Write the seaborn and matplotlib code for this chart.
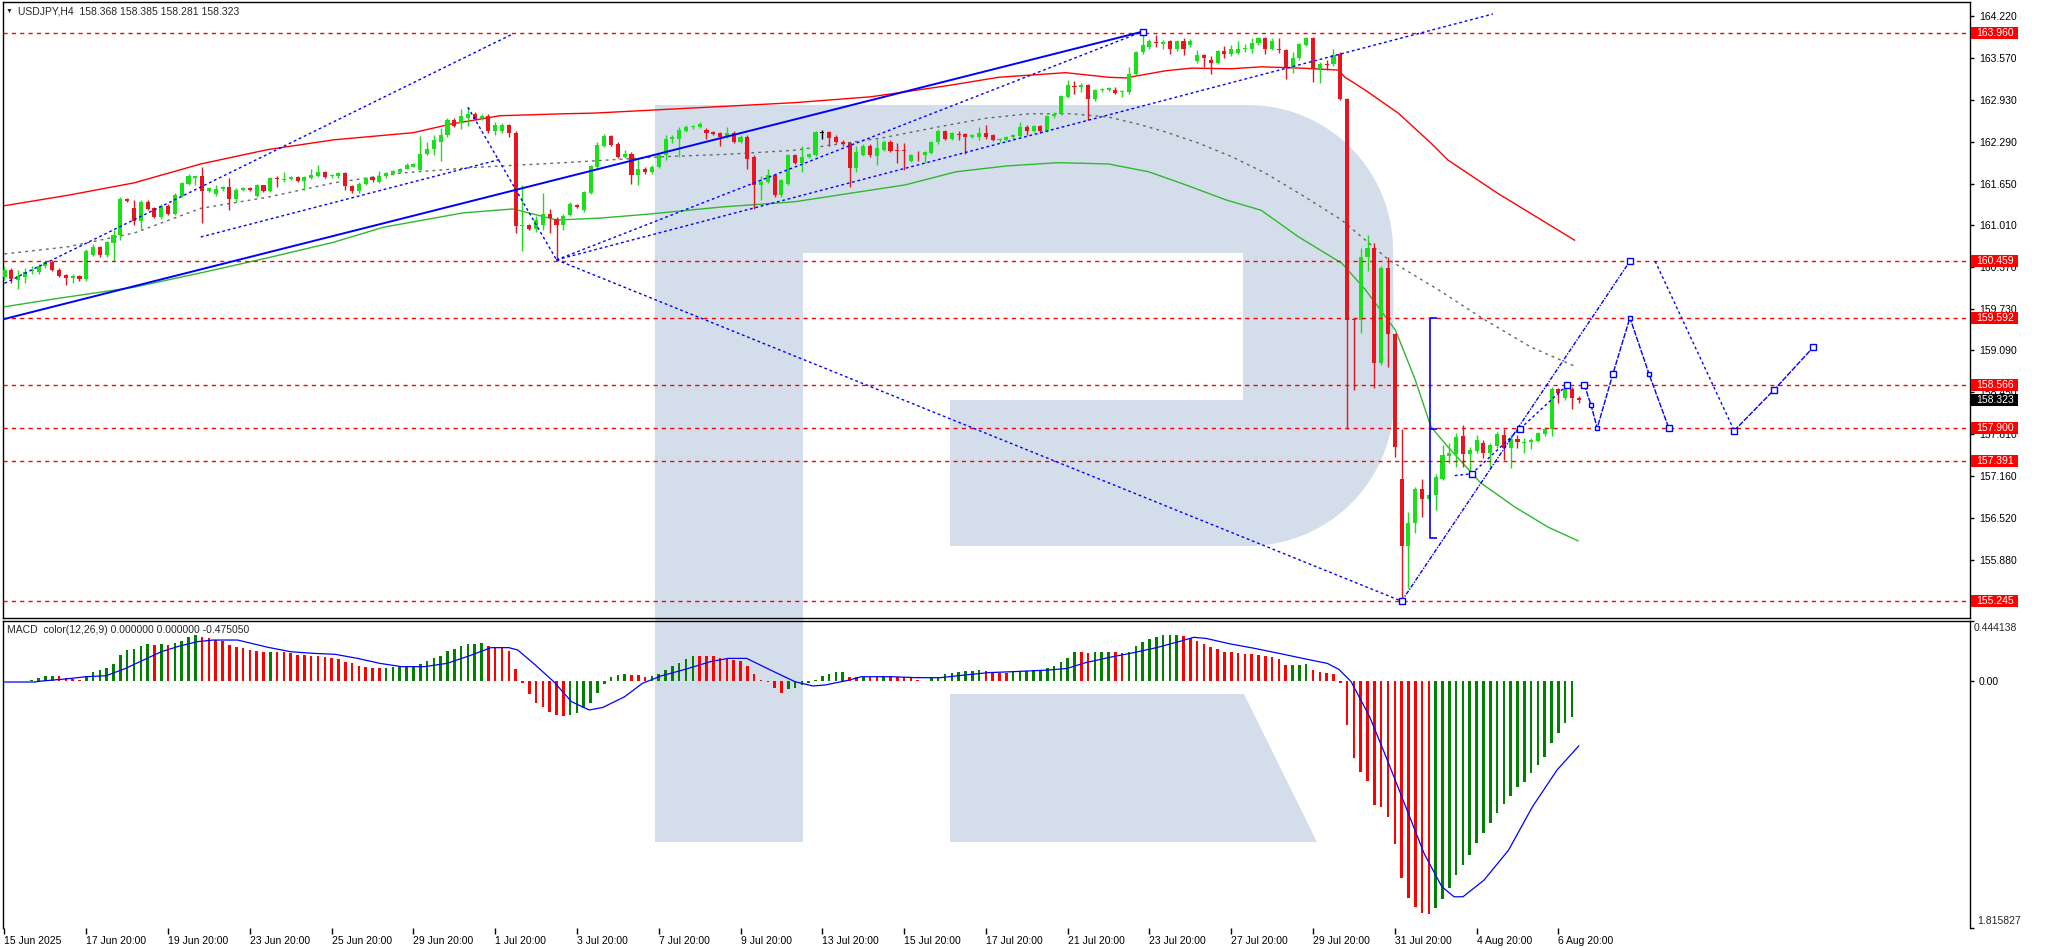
import numpy as np
import matplotlib
matplotlib.use('Agg')
import matplotlib.pyplot as plt
import matplotlib.transforms as mtransforms
from matplotlib.patches import Polygon, Rectangle
import seaborn as sns

# USDJPY H4 candles, oldest first
opens = [160.22, 160.33, 160.17, 160.22, 160.31, 160.30, 160.38, 160.45, 160.33, 160.25,
         160.20, 160.23, 160.18, 160.56, 160.67, 160.55, 160.74, 160.86, 161.41, 161.27,
         161.08, 161.36, 161.27, 161.13, 161.31, 161.19, 161.46, 161.65, 161.74, 161.76,
         161.54, 161.49, 161.56, 161.59, 161.41, 161.55, 161.58, 161.46, 161.62, 161.54,
         161.73, 161.70, 161.72, 161.75, 161.69, 161.73, 161.77, 161.82, 161.76, 161.76,
         161.81, 161.61, 161.54, 161.65, 161.75, 161.68, 161.76, 161.80, 161.82, 161.88,
         161.91, 161.85, 162.11, 162.18, 162.29, 162.39, 162.63, 162.58, 162.65, 162.72,
         162.65, 162.69, 162.45, 162.46, 162.55, 162.42, 161.00, 161.01, 160.95, 161.01,
         161.18, 161.10, 161.01, 161.17, 161.32, 161.24, 161.51, 161.91, 162.23, 162.38,
         162.26, 162.06, 162.11, 161.78, 161.88, 161.82, 161.91, 162.09, 162.34, 162.34,
         162.46, 162.51, 162.52, 162.47, 162.44, 162.42, 162.37, 162.43, 162.29, 162.37,
         162.05, 161.62, 161.68, 161.78, 161.47, 161.64, 162.09, 161.96, 162.06, 162.09,
         162.42, 162.44, 162.37, 162.29, 162.27, 161.89, 162.09, 162.23, 162.07, 162.17,
         162.29, 162.16, 162.16, 162.00, 162.09, 162.08, 162.12, 162.28, 162.45, 162.34,
         162.41, 162.41, 162.37, 162.37, 162.42, 162.39, 162.31, 162.32, 162.36, 162.38,
         162.52, 162.46, 162.53, 162.46, 162.68, 162.72, 162.98, 163.15, 163.13, 163.16,
         162.94, 163.08, 163.09, 163.09, 163.05, 163.05, 163.33, 163.66, 163.75, 163.82,
         163.79, 163.83, 163.71, 163.83, 163.77, 163.53, 163.62, 163.55, 163.50, 163.68,
         163.63, 163.65, 163.71, 163.72, 163.80, 163.88, 163.72, 163.72, 163.70, 163.44,
         163.57, 163.78, 163.88, 163.40, 163.48, 163.48, 163.64, 162.95, 159.56, 159.56,
         160.52, 160.66, 158.90, 160.36, 159.34, 157.12, 156.09, 156.44, 156.97, 156.81,
         156.87, 157.12, 157.47, 157.50, 157.78, 157.50, 157.55, 157.67, 157.52, 157.62,
         157.79, 157.60, 157.73, 157.67, 157.69, 157.70, 157.81, 157.89, 158.50, 158.36,
         158.50, 158.368]
highs = [160.38, 160.36, 160.33, 160.35, 160.38, 160.42, 160.46, 160.48, 160.35, 160.27,
         160.27, 160.25, 160.64, 160.73, 160.69, 160.77, 160.93, 161.44, 161.43, 161.40,
         161.40, 161.39, 161.29, 161.34, 161.33, 161.50, 161.68, 161.79, 161.77, 161.91,
         161.60, 161.63, 161.61, 161.73, 161.58, 161.60, 161.60, 161.64, 161.63, 161.75,
         161.77, 161.82, 161.77, 161.77, 161.77, 161.88, 161.93, 161.84, 161.80, 161.83,
         161.83, 161.63, 161.67, 161.75, 161.76, 161.84, 161.83, 161.86, 161.89, 161.96,
         161.97, 162.38, 162.29, 162.39, 162.50, 162.65, 162.65, 162.80, 162.82, 162.74,
         162.72, 162.71, 162.60, 162.58, 162.57, 162.45, 161.63, 161.03, 161.15, 161.50,
         161.26, 161.14, 161.19, 161.36, 161.34, 161.54, 161.94, 162.29, 162.41, 162.40,
         162.28, 162.17, 162.14, 162.06, 161.90, 161.93, 162.11, 162.40, 162.40, 162.52,
         162.54, 162.54, 162.60, 162.50, 162.46, 162.44, 162.51, 162.45, 162.39, 162.39,
         162.09, 161.76, 161.88, 161.80, 161.72, 162.11, 162.11, 162.22, 162.12, 162.46,
         162.47, 162.46, 162.39, 162.31, 162.29, 162.22, 162.25, 162.25, 162.34, 162.31,
         162.31, 162.27, 162.27, 162.11, 162.15, 162.15, 162.30, 162.48, 162.47, 162.44,
         162.45, 162.43, 162.41, 162.52, 162.55, 162.41, 162.35, 162.38, 162.41, 162.60,
         162.54, 162.55, 162.55, 162.70, 162.74, 163.01, 163.24, 163.22, 163.19, 163.18,
         163.10, 163.12, 163.13, 163.13, 163.09, 163.44, 163.68, 163.98, 163.86, 163.93,
         163.85, 163.85, 163.85, 163.88, 163.86, 163.70, 163.64, 163.61, 163.70, 163.76,
         163.77, 163.83, 163.79, 163.88, 163.90, 163.90, 163.88, 163.88, 163.72, 163.67,
         163.81, 163.90, 163.90, 163.51, 163.54, 163.72, 163.66, 162.96, 159.57, 160.66,
         160.86, 160.74, 160.39, 160.52, 159.36, 157.89, 156.61, 156.99, 157.12, 156.90,
         157.19, 157.64, 157.67, 157.82, 157.95, 157.61, 157.79, 157.72, 157.67, 157.84,
         157.89, 157.79, 157.79, 157.75, 157.75, 157.84, 157.92, 158.53, 158.51, 158.56,
         158.53, 158.385]
lows = [160.17, 160.13, 160.03, 160.12, 160.27, 160.27, 160.36, 160.31, 160.21, 160.09,
        160.13, 160.16, 160.16, 160.54, 160.53, 160.53, 160.46, 160.78, 161.36, 161.01,
        160.96, 161.24, 161.12, 161.10, 161.17, 161.17, 161.44, 161.63, 161.63, 161.05,
        161.52, 161.46, 161.54, 161.24, 161.36, 161.53, 161.53, 161.44, 161.52, 161.52,
        161.60, 161.67, 161.70, 161.67, 161.55, 161.72, 161.75, 161.73, 161.74, 161.74,
        161.55, 161.50, 161.50, 161.63, 161.68, 161.66, 161.74, 161.78, 161.81, 161.87,
        161.90, 161.84, 162.09, 162.09, 161.99, 162.37, 162.51, 162.48, 162.53, 162.62,
        162.63, 162.43, 162.40, 162.42, 162.37, 160.89, 160.61, 160.94, 160.91, 160.94,
        160.89, 160.48, 160.94, 161.15, 161.27, 161.22, 161.49, 161.89, 162.21, 162.22,
        162.04, 162.04, 161.65, 161.63, 161.80, 161.80, 161.89, 162.01, 162.27, 162.05,
        162.44, 162.49, 162.50, 162.34, 162.39, 162.23, 162.35, 162.27, 162.27, 161.88,
        161.26, 161.40, 161.66, 161.45, 161.45, 161.62, 161.95, 161.82, 162.04, 162.07,
        162.34, 162.22, 162.27, 162.22, 161.59, 161.82, 162.07, 162.06, 161.93, 162.15,
        162.13, 161.96, 161.86, 161.98, 162.00, 161.96, 162.10, 162.26, 162.32, 162.32,
        162.32, 162.10, 162.35, 162.32, 162.34, 162.30, 162.29, 162.30, 162.34, 162.36,
        162.39, 162.44, 162.42, 162.44, 162.66, 162.70, 162.96, 163.02, 163.06, 162.62,
        162.92, 163.06, 163.07, 163.02, 162.98, 163.03, 163.31, 163.64, 163.71, 163.74,
        163.71, 163.63, 163.69, 163.62, 163.75, 163.50, 163.44, 163.33, 163.48, 163.57,
        163.61, 163.63, 163.66, 163.65, 163.78, 163.64, 163.70, 163.65, 163.26, 163.34,
        163.55, 163.76, 163.21, 163.19, 163.39, 163.45, 162.93, 157.89, 158.48, 159.36,
        160.31, 158.51, 158.87, 158.84, 157.46, 155.245, 155.45, 156.29, 156.54, 156.78,
        156.64, 157.10, 157.36, 157.30, 157.30, 157.21, 157.52, 157.44, 157.29, 157.60,
        157.41, 157.29, 157.60, 157.52, 157.58, 157.69, 157.78, 157.78, 158.28, 158.33,
        158.19, 158.281]
closes = [160.33, 160.18, 160.23, 160.30, 160.33, 160.39, 160.44, 160.33, 160.23, 160.20,
          160.23, 160.18, 160.62, 160.67, 160.55, 160.75, 160.86, 161.41, 161.38, 161.08,
          161.37, 161.26, 161.14, 161.31, 161.19, 161.47, 161.66, 161.76, 161.76, 161.54,
          161.58, 161.56, 161.59, 161.41, 161.55, 161.58, 161.55, 161.62, 161.54, 161.73,
          161.72, 161.72, 161.75, 161.69, 161.75, 161.78, 161.83, 161.75, 161.78, 161.81,
          161.61, 161.54, 161.65, 161.73, 161.71, 161.76, 161.81, 161.84, 161.87, 161.94,
          161.95, 162.11, 162.18, 162.31, 162.39, 162.63, 162.53, 162.68, 162.72, 162.64,
          162.69, 162.45, 162.55, 162.55, 162.42, 161.00, 161.01, 160.96, 161.09, 161.19,
          161.12, 161.01, 161.15, 161.34, 161.29, 161.52, 161.92, 162.24, 162.38, 162.24,
          162.06, 162.11, 161.78, 161.88, 161.82, 161.91, 162.09, 162.34, 162.36, 162.47,
          162.52, 162.52, 162.57, 162.42, 162.41, 162.37, 162.43, 162.29, 162.37, 162.03,
          161.63, 161.68, 161.78, 161.47, 161.70, 162.09, 161.97, 162.06, 162.10, 162.44,
          162.42, 162.35, 162.29, 162.26, 161.89, 162.14, 162.23, 162.08, 162.19, 162.29,
          162.15, 162.15, 162.15, 162.09, 162.08, 162.13, 162.28, 162.46, 162.34, 162.42,
          162.40, 162.37, 162.39, 162.42, 162.36, 162.32, 162.33, 162.36, 162.39, 162.51,
          162.46, 162.53, 162.46, 162.68, 162.72, 162.99, 163.16, 163.13, 163.16, 162.94,
          163.08, 163.10, 163.11, 163.04, 163.07, 163.33, 163.66, 163.77, 163.84, 163.80,
          163.82, 163.71, 163.83, 163.71, 163.84, 163.62, 163.57, 163.50, 163.68, 163.63,
          163.72, 163.72, 163.73, 163.80, 163.88, 163.72, 163.83, 163.70, 163.43, 163.57,
          163.79, 163.88, 163.40, 163.48, 163.47, 163.62, 162.94, 159.56, 159.55, 160.52,
          160.66, 158.90, 160.36, 159.34, 157.61, 156.09, 156.44, 156.97, 156.81, 156.87,
          157.15, 157.49, 157.52, 157.76, 157.50, 157.56, 157.72, 157.52, 157.64, 157.81,
          157.60, 157.73, 157.69, 157.69, 157.72, 157.82, 157.89, 158.50, 158.44, 158.50,
          158.36, 158.323]

# MACD color(12,26,9) histogram, one per closed candle
macd = [0.003, 0.002, 0.005, 0.006, 0.010, 0.022, 0.039, 0.040, 0.038, 0.022,
        0.015, 0.010, 0.039, 0.071, 0.083, 0.096, 0.127, 0.194, 0.231, 0.238,
        0.260, 0.272, 0.267, 0.275, 0.267, 0.285, 0.297, 0.329, 0.341, 0.324,
        0.316, 0.304, 0.299, 0.267, 0.255, 0.243, 0.231, 0.223, 0.218, 0.219,
        0.217, 0.213, 0.206, 0.194, 0.193, 0.189, 0.186, 0.181, 0.174, 0.164,
        0.145, 0.132, 0.113, 0.108, 0.100, 0.099, 0.100, 0.108, 0.109, 0.110,
        0.113, 0.127, 0.149, 0.169, 0.186, 0.223, 0.235, 0.260, 0.272, 0.277,
        0.285, 0.260, 0.250, 0.243, 0.226, 0.088, -0.010, -0.093, -0.157, -0.191,
        -0.224, -0.248, -0.255, -0.248, -0.236, -0.199, -0.157, -0.088, -0.020, 0.029,
        0.046, 0.054, 0.046, 0.044, 0.034, 0.036, 0.052, 0.080, 0.110, 0.137,
        0.165, 0.190, 0.186, 0.185, 0.184, 0.169, 0.162, 0.160, 0.152, 0.113,
        0.054, 0.010, -0.007, -0.052, -0.084, -0.059, -0.052, -0.027, -0.010, 0.010,
        0.039, 0.054, 0.066, 0.067, 0.034, 0.029, 0.034, 0.033, 0.029, 0.039,
        0.038, 0.034, 0.033, 0.029, 0.010, 0.005, 0.022, 0.034, 0.054, 0.059,
        0.071, 0.076, 0.078, 0.083, 0.076, 0.071, 0.064, 0.059, 0.066, 0.071,
        0.078, 0.083, 0.084, 0.095, 0.113, 0.145, 0.174, 0.215, 0.213, 0.212,
        0.214, 0.216, 0.218, 0.213, 0.212, 0.218, 0.260, 0.292, 0.309, 0.329,
        0.341, 0.342, 0.343, 0.334, 0.316, 0.297, 0.275, 0.250, 0.235, 0.218,
        0.213, 0.206, 0.201, 0.200, 0.194, 0.186, 0.176, 0.162, 0.118, 0.120,
        0.122, 0.125, 0.083, 0.071, 0.059, 0.051, -0.010, -0.322, -0.562, -0.665,
        -0.734, -0.911, -0.923, -1.002, -1.198, -1.446, -1.593, -1.659, -1.709, -1.713,
        -1.672, -1.603, -1.525, -1.426, -1.353, -1.279, -1.188, -1.120, -1.046, -0.967,
        -0.902, -0.845, -0.776, -0.739, -0.673, -0.616, -0.560, -0.457, -0.378, -0.310,
        -0.260]

# MACD signal line (bar index, value)
signal_x = [0, 4.4, 5.4, 9.3, 11.9, 14.9, 17.8, 20.4, 23, 25.7, 28.3, 30.6, 34.2, 38.7, 42, 45.3,
            48.5, 51.8, 55.1, 58.3, 61.6, 64.9, 68.1, 71.4, 74, 75.3, 77.9, 80.6, 83.2, 85.8,
            87.8, 91, 93.6, 96.3, 100, 103.6, 106.2, 108.9, 112.4, 116, 118.6, 120.4, 124,
            125.7, 130.2, 133.7, 137.3, 140.8, 144.4, 147.9, 153.2, 155.9, 158.6, 162.1,
            165.7, 169.2, 172.8, 174.5, 176.3, 179.9, 183.4, 187, 190.5, 194.1, 195.8,
            197.6, 200.3, 202.9, 205.6, 208.3, 210.9, 212.7, 214, 217.1, 220.7, 224.2,
            227.8, 231]
signal_y = [-0.005, -0.005, 0.002, 0.019, 0.034, 0.041, 0.096, 0.157, 0.218, 0.260, 0.292, 0.304,
            0.304, 0.250, 0.218, 0.206, 0.199, 0.169, 0.132, 0.108, 0.108, 0.132, 0.186, 0.248,
            0.248, 0.231, 0.120, -0.003, -0.150, -0.211, -0.192, -0.113, -0.015, 0.039, 0.090,
            0.145, 0.169, 0.169, 0.083, -0.003, -0.034, -0.027, 0.010, 0.034, 0.034, 0.027,
            0.027, 0.046, 0.064, 0.071, 0.083, 0.095, 0.137, 0.176, 0.211, 0.250, 0.299, 0.324,
            0.316, 0.275, 0.243, 0.206, 0.169, 0.132, 0.088, -0.003, -0.260, -0.579, -0.923,
            -1.267, -1.512, -1.586, -1.586, -1.463, -1.242, -0.923, -0.653, -0.475]

# band lines (bar index, price)
upper_x = [0, 9.3, 19, 28.8, 38.6, 48.3, 60, 65.4, 72.7, 82.2, 86.5, 101.3, 115.9, 127.1, 138.3,
           145.9, 155.7, 162, 164.5, 170.4, 174.2, 180, 184.4, 190.3, 195.7, 196.7, 199.7, 204.5,
           209.3, 211.8, 219.1, 230.4]
upper_y = [161.31, 161.47, 161.66, 161.95, 162.17, 162.32, 162.43, 162.56, 162.69, 162.72, 162.73,
           162.81, 162.89, 162.98, 163.15, 163.28, 163.35, 163.28, 163.27, 163.38, 163.42, 163.41,
           163.44, 163.42, 163.39, 163.28, 163.08, 162.73, 162.27, 162.01, 161.50, 160.78]
middle_x = [0, 9.3, 19, 28.8, 38.6, 48.3, 58.1, 69.4, 82.2, 96.3, 106.4, 115.9, 128.8, 137.1, 143.9,
            150.3, 156.6, 162, 166.4, 170.4, 175.2, 180.1, 185, 190.9, 196.2, 203.1, 210.4, 217.2,
            224, 230.6]
middle_y = [160.57, 160.68, 160.89, 161.27, 161.44, 161.66, 161.81, 161.90, 161.97, 162.06, 162.10,
            162.16, 162.35, 162.52, 162.65, 162.72, 162.72, 162.67, 162.56, 162.44, 162.27, 162.06,
            161.81, 161.44, 161.09, 160.48, 160.02, 159.56, 159.14, 158.84]
lower_x = [0, 7.3, 19, 28.8, 38.6, 48.3, 55.6, 67.3, 74.6, 81.1, 87.4, 94.4, 105.2, 115.9, 132.2,
           139.6, 147.1, 154.6, 162, 167.9, 173.3, 179.2, 184.4, 189.9, 196.2, 199.7, 204.1, 207,
           209.3, 211.8, 216.6, 221.6, 226.5, 230.9]
lower_y = [159.76, 159.88, 160.06, 160.28, 160.51, 160.75, 160.98, 161.20, 161.26, 161.09, 161.12,
           161.18, 161.29, 161.37, 161.63, 161.83, 161.92, 161.97, 161.95, 161.83, 161.63, 161.40,
           161.24, 160.83, 160.43, 160.02, 159.40, 158.64, 157.92, 157.61, 157.06, 156.69, 156.38,
           156.17]

# drawn trend lines (bar index, price)
channel_x = [-0.5, 167]
channel_y = [159.56, 163.98]
dotted_lines = [
    ([0, 74.3], [160.12, 163.93]),
    ([28.8, 72.7], [160.83, 162.02]),
    ([68, 81], [162.82, 160.48]),
    ([81, 205], [160.48, 155.245]),
    ([81, 218.4], [160.48, 164.25]),
    ([81, 167], [160.48, 163.98]),
]
recent_x = [212.8, 215.3, 222.4, 229.3]
recent_y = [157.17, 157.20, 157.89, 158.56]
range_x = 209.2
range_y = [156.21, 157.89, 159.592]

# forecast path
zig_x = [231.8, 232.8, 233.7, 236.0, 238.5, 241.3, 244.2]
zig_y = [158.566, 158.25, 157.90, 158.73, 159.592, 158.73, 157.90]
target_x = [205.0, 238.5]
target_y = [155.245, 160.459]
fall_x = [242.2, 253.8]
fall_y = [160.459, 157.86]
rise_x = [253.8, 259.6, 265.4]
rise_y = [157.86, 158.48, 159.14]

levels = [163.960, 160.459, 159.592, 158.566, 157.900, 157.391, 155.245]
last_price = 158.323
price_ticks = [164.220, 163.570, 162.930, 162.290, 161.650, 161.010, 160.370, 159.730,
               159.090, 158.450, 157.810, 157.160, 156.520, 155.880]
date_labels = ['15 Jun 2025', '17 Jun 20:00', '19 Jun 20:00', '23 Jun 20:00', '25 Jun 20:00',
               '29 Jun 20:00', '1 Jul 20:00', '3 Jul 20:00', '7 Jul 20:00', '9 Jul 20:00',
               '13 Jul 20:00', '15 Jul 20:00', '17 Jul 20:00', '21 Jul 20:00', '23 Jul 20:00',
               '27 Jul 20:00', '29 Jul 20:00', '31 Jul 20:00', '4 Aug 20:00', '6 Aug 20:00']

sns.set_theme(style='white')
plt.rcParams['font.family'] = ['Liberation Sans', 'DejaVu Sans']

BLUE = '#0000ff'
GREEN = '#19e019'
RED = '#e8141e'
W, H = 2046, 948

fig = plt.figure(figsize=(W / 100, H / 100), dpi=100, facecolor='white')


def box(left, top, right, bottom):
    return [left / W, 1 - bottom / H, (right - left) / W, (bottom - top) / H]


ax = fig.add_axes(box(3, 2, 1970, 618))
ax2 = fig.add_axes(box(3, 621, 1970, 928), sharex=ax)
for a in (ax, ax2):
    a.set_facecolor('none')
    for s in a.spines.values():
        s.set_color('black')
        s.set_linewidth(1)
ax2.spines['bottom'].set_visible(False)

# watermark logo behind both panels, in image pixel coords
px = mtransforms.Affine2D().scale(1.0 / W, -1.0 / H).translate(0, 1) + fig.transFigure


def arc(cx, cy, r, a0, a1, n=40):
    t = np.radians(np.linspace(a0, a1, n))
    return list(zip(cx + r * np.cos(t), cy + r * np.sin(t)))


logo_col = '#d4deea'
stem = [(655, 105), (803, 105), (803, 842), (655, 842)]
bowl = ([(803, 105), (1248, 105)] + arc(1248, 250, 145, -90, 0) + arc(1248, 400, 146, 0, 90)
        + [(950, 546), (950, 400), (1243, 400), (1243, 253), (803, 253)])
leg = [(950, 694), (1244, 694), (1317, 842), (950, 842)]
for pts in (stem, bowl, leg):
    fig.add_artist(Polygon(pts, closed=True, transform=px, facecolor=logo_col,
                           edgecolor='none', zorder=-1))

# ---- price panel ----
o = np.array(opens)
h = np.array(highs)
l = np.array(lows)
c = np.array(closes)
idx = np.arange(len(c))
cols = np.where(c > o, GREEN, np.where(c < o, RED, 'black'))
ax.vlines(idx, l, h, colors=cols, linewidth=1, zorder=3)
ax.bar(idx, np.maximum(np.abs(c - o), 0.015), bottom=np.minimum(o, c), width=0.6,
       color=cols, linewidth=0, zorder=4)

sns.lineplot(x=upper_x, y=upper_y, ax=ax, color='#ff0000', linewidth=1.0, sort=False, zorder=2)
sns.lineplot(x=middle_x, y=middle_y, ax=ax, color='#666666', linewidth=1,
             linestyle=(0, (2, 3)), sort=False, zorder=2)
sns.lineplot(x=lower_x, y=lower_y, ax=ax, color='#2fb82f', linewidth=1.0, sort=False, zorder=2)

for lv in levels:
    ax.axhline(lv, color='#ff0000', linewidth=1, linestyle=(0, (3, 3)), zorder=5)

ax.plot(channel_x, channel_y, color=BLUE, linewidth=1.4, zorder=6)
for xs, ys in dotted_lines:
    ax.plot(xs, ys, color=BLUE, linewidth=1, linestyle=(0, (2, 2)), zorder=6)
ax.plot(recent_x, recent_y, color=BLUE, linewidth=1, linestyle=(0, (2, 2)), zorder=6)
ax.plot([range_x, range_x], [range_y[0], range_y[-1]], color=BLUE, linewidth=1.2, zorder=6)
ax.hlines(range_y, range_x, range_x + 1.0, color=BLUE, linewidth=1.2, zorder=6)
ax.plot(target_x, target_y, color=BLUE, linewidth=1, linestyle=(0, (3, 1, 1, 1)), zorder=6)
ax.plot(zig_x, zig_y, color=BLUE, linewidth=1, linestyle=(0, (4, 1)), zorder=6)
ax.plot(fall_x, fall_y, color=BLUE, linewidth=1, linestyle=(0, (2, 2)), zorder=6)
ax.plot(rise_x, rise_y, color=BLUE, linewidth=1, linestyle=(0, (4, 1)), zorder=6)

sq = dict(linestyle='none', marker='s', markersize=4, markerfacecolor='white',
          markeredgecolor=BLUE, markeredgewidth=1, zorder=7)
ax.plot([channel_x[-1]], [channel_y[-1]], **sq)
ax.plot(recent_x[1:], recent_y[1:], **sq)
ax.plot(target_x, target_y, **sq)
ax.plot(zig_x[::3], zig_y[::3], **sq)
ax.plot(rise_x, rise_y, **sq)
ax.plot(zig_x[1::3], zig_y[1::3], **dict(sq, markersize=3))
ax.plot(zig_x[2::3], zig_y[2::3], **dict(sq, markersize=3))

ax.set_xlim(-0.22, 288.4)
ax.set_ylim(154.987, 164.434)
ax.yaxis.tick_right()
ax.set_yticks(price_ticks)
ax.set_yticklabels([f'{v:.3f}' for v in price_ticks])
ax.tick_params(axis='y', length=3, width=1, pad=3.5, labelsize=7.5, colors='black',
               direction='out', right=True, left=False)
ax.tick_params(axis='x', bottom=False, labelbottom=False)
ax.set_xlabel('')
ax.set_ylabel('')

bt = mtransforms.blended_transform_factory(ax.transAxes, ax.transData)
hh = 6 * 0.015337
for lv, fc in [(v, '#ff0000') for v in levels] + [(last_price, 'black')]:
    ax.add_patch(Rectangle((1.0005, lv - hh), 0.0239, 2 * hh, transform=bt, facecolor=fc,
                           edgecolor='none', clip_on=False, zorder=8))
    ax.text(1.0034, lv, f'{lv:.3f}', transform=bt, color='white', fontsize=7.5,
            va='center', ha='left', clip_on=False, zorder=9)

fig.text(6 / W, 1 - 11 / H, '▼', fontsize=5, va='center', ha='left')
fig.text(18 / W, 1 - 11 / H, 'USDJPY,H4  158.368 158.385 158.281 158.323', fontsize=7.5,
         va='center', ha='left')

# ---- MACD panel ----
m = np.array(macd)
mcols = [RED] + [('#008000' if m[i] > m[i - 1] else '#ff0000') for i in range(1, len(m))]
ax2.bar(np.arange(len(m)), m, width=0.38, color=mcols, linewidth=0, zorder=3)
sns.lineplot(x=signal_x, y=signal_y, ax=ax2, color=BLUE, linewidth=0.9, sort=False, zorder=4)
ax2.set_ylim(-1.815827, 0.444138)
ax2.yaxis.tick_right()
ax2.set_yticks([-1.815827, 0.0, 0.444138])
ax2.set_yticklabels(['', '0.00', ''])
ax2.tick_params(axis='y', length=3, width=1, pad=3, labelsize=7.5, colors='black',
                direction='out', right=True, left=False)
ax2.text(1.002, 1 - 7 / 307, '0.444138', transform=ax2.transAxes, fontsize=7.5,
         va='center', ha='left', clip_on=False)
ax2.text(1.0035, 6.5 / 307, '1.815827', transform=ax2.transAxes, fontsize=7.5,
         va='center', ha='left', clip_on=False)
fig.text(7 / W, 1 - 630 / H, 'MACD  color(12,26,9) 0.000000 0.000000 -0.475050', fontsize=7.5,
         va='center', ha='left')

ax2.set_xticks(np.arange(len(date_labels)) * 12)
ax2.set_xticklabels(date_labels, ha='left')
ax2.tick_params(axis='x', length=4, width=1, pad=1.5, labelsize=7.5, colors='black',
                direction='out', bottom=True)
ax2.set_xlabel('')
ax2.set_ylabel('')

fig.savefig('out.png', dpi=100, facecolor='white')
